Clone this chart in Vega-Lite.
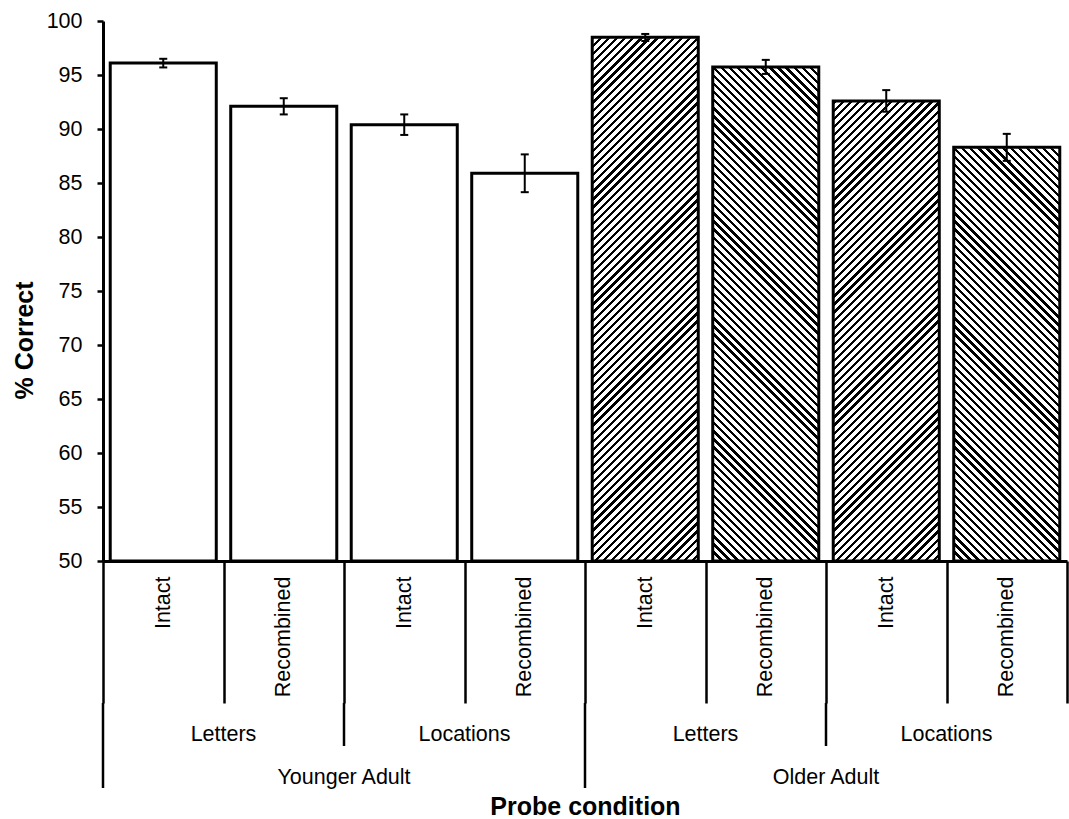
{
"$schema":"https://vega.github.io/schema/vega-lite/v6.json",
"background":"white",
"padding":{"left":12,"top":10,"right":0,"bottom":0},
"config":{"view":{"stroke":null},"font":"Liberation Sans","axis":{"grid":false,"labelColor":"black","titleColor":"black","domainColor":"black","tickColor":"black","labelFont":"Liberation Sans","titleFont":"Liberation Sans","labelFontSize":21.5}},
"datasets":{
"bars":[
{"age":"Younger Adult","material":"Letters","cond":"Intact","cell":"Younger Adult|Letters|Intact","mean":96.1,"lo":95.7,"hi":96.5},
{"age":"Younger Adult","material":"Letters","cond":"Recombined","cell":"Younger Adult|Letters|Recombined","mean":92.1,"lo":91.35,"hi":92.85},
{"age":"Younger Adult","material":"Locations","cond":"Intact","cell":"Younger Adult|Locations|Intact","mean":90.4,"lo":89.45,"hi":91.35},
{"age":"Younger Adult","material":"Locations","cond":"Recombined","cell":"Younger Adult|Locations|Recombined","mean":85.9,"lo":84.15,"hi":87.65},
{"age":"Older Adult","material":"Letters","cond":"Intact","cell":"Older Adult|Letters|Intact","mean":98.5,"lo":98.15,"hi":98.8},
{"age":"Older Adult","material":"Letters","cond":"Recombined","cell":"Older Adult|Letters|Recombined","mean":95.75,"lo":95.1,"hi":96.4},
{"age":"Older Adult","material":"Locations","cond":"Intact","cell":"Older Adult|Locations|Intact","mean":92.6,"lo":91.6,"hi":93.6},
{"age":"Older Adult","material":"Locations","cond":"Recombined","cell":"Older Adult|Locations|Recombined","mean":88.3,"lo":87.05,"hi":89.55}
],
"materials":[
{"group":"Younger Adult|Letters","material":"Letters"},
{"group":"Younger Adult|Locations","material":"Locations"},
{"group":"Older Adult|Letters","material":"Letters"},
{"group":"Older Adult|Locations","material":"Locations"}
],
"ages":[{"age":"Younger Adult"},{"age":"Older Adult"}]
},
"bounds":"flush",
"spacing":142,
"vconcat":[
{
"width":964,"height":540,
"data":{"name":"bars"},
"encoding":{"x":{"field":"cell","type":"nominal","scale":{"domain":["Younger Adult|Letters|Intact","Younger Adult|Letters|Recombined","Younger Adult|Locations|Intact","Younger Adult|Locations|Recombined","Older Adult|Letters|Intact","Older Adult|Letters|Recombined","Older Adult|Locations|Intact","Older Adult|Locations|Recombined"],"paddingInner":0,"paddingOuter":0},
"axis":{"title":null,"tickBand":"extent","tickSize":142,"tickWidth":2.5,"domainWidth":3,"labelAngle":270,"labelAlign":"right","labelBaseline":"middle","labelPadding":-127,"labelOverlap":false,"labelExpr":"split(datum.label, '|')[2]"}}},
"layer":[
{"transform":[{"filter":"datum.age === 'Older Adult' && datum.cond === 'Intact'"}],
"mark":{"type":"bar","width":{"band":0.88},"strokeWidth":0,"fill":{"gradient":"linear","x1":0,"y1":0,"x2":0.2262,"y2":1.1519,"stops":[
{"offset":0,"color":"#000"},{"offset":0.005,"color":"#000"},{"offset":0.005,"color":"#fff"},{"offset":0.0125,"color":"#fff"},{"offset":0.0125,"color":"#000"},{"offset":0.0175,"color":"#000"},{"offset":0.0175,"color":"#fff"},{"offset":0.025,"color":"#fff"},{"offset":0.025,"color":"#000"},{"offset":0.03,"color":"#000"},{"offset":0.03,"color":"#fff"},{"offset":0.0375,"color":"#fff"},{"offset":0.0375,"color":"#000"},{"offset":0.0425,"color":"#000"},{"offset":0.0425,"color":"#fff"},{"offset":0.05,"color":"#fff"},{"offset":0.05,"color":"#000"},{"offset":0.055,"color":"#000"},{"offset":0.055,"color":"#fff"},{"offset":0.0625,"color":"#fff"},{"offset":0.0625,"color":"#000"},{"offset":0.0675,"color":"#000"},{"offset":0.0675,"color":"#fff"},{"offset":0.075,"color":"#fff"},{"offset":0.075,"color":"#000"},{"offset":0.08,"color":"#000"},{"offset":0.08,"color":"#fff"},{"offset":0.0875,"color":"#fff"},{"offset":0.0875,"color":"#000"},{"offset":0.0925,"color":"#000"},{"offset":0.0925,"color":"#fff"},{"offset":0.1,"color":"#fff"},
{"offset":0.1,"color":"#000"},{"offset":0.105,"color":"#000"},{"offset":0.105,"color":"#fff"},{"offset":0.1125,"color":"#fff"},{"offset":0.1125,"color":"#000"},{"offset":0.1175,"color":"#000"},{"offset":0.1175,"color":"#fff"},{"offset":0.125,"color":"#fff"},{"offset":0.125,"color":"#000"},{"offset":0.13,"color":"#000"},{"offset":0.13,"color":"#fff"},{"offset":0.1375,"color":"#fff"},{"offset":0.1375,"color":"#000"},{"offset":0.1425,"color":"#000"},{"offset":0.1425,"color":"#fff"},{"offset":0.15,"color":"#fff"},{"offset":0.15,"color":"#000"},{"offset":0.155,"color":"#000"},{"offset":0.155,"color":"#fff"},{"offset":0.1625,"color":"#fff"},{"offset":0.1625,"color":"#000"},{"offset":0.1675,"color":"#000"},{"offset":0.1675,"color":"#fff"},{"offset":0.175,"color":"#fff"},{"offset":0.175,"color":"#000"},{"offset":0.18,"color":"#000"},{"offset":0.18,"color":"#fff"},{"offset":0.1875,"color":"#fff"},{"offset":0.1875,"color":"#000"},{"offset":0.1925,"color":"#000"},{"offset":0.1925,"color":"#fff"},{"offset":0.2,"color":"#fff"},
{"offset":0.2,"color":"#000"},{"offset":0.205,"color":"#000"},{"offset":0.205,"color":"#fff"},{"offset":0.2125,"color":"#fff"},{"offset":0.2125,"color":"#000"},{"offset":0.2175,"color":"#000"},{"offset":0.2175,"color":"#fff"},{"offset":0.225,"color":"#fff"},{"offset":0.225,"color":"#000"},{"offset":0.23,"color":"#000"},{"offset":0.23,"color":"#fff"},{"offset":0.2375,"color":"#fff"},{"offset":0.2375,"color":"#000"},{"offset":0.2425,"color":"#000"},{"offset":0.2425,"color":"#fff"},{"offset":0.25,"color":"#fff"},{"offset":0.25,"color":"#000"},{"offset":0.255,"color":"#000"},{"offset":0.255,"color":"#fff"},{"offset":0.2625,"color":"#fff"},{"offset":0.2625,"color":"#000"},{"offset":0.2675,"color":"#000"},{"offset":0.2675,"color":"#fff"},{"offset":0.275,"color":"#fff"},{"offset":0.275,"color":"#000"},{"offset":0.28,"color":"#000"},{"offset":0.28,"color":"#fff"},{"offset":0.2875,"color":"#fff"},{"offset":0.2875,"color":"#000"},{"offset":0.2925,"color":"#000"},{"offset":0.2925,"color":"#fff"},{"offset":0.3,"color":"#fff"},
{"offset":0.3,"color":"#000"},{"offset":0.305,"color":"#000"},{"offset":0.305,"color":"#fff"},{"offset":0.3125,"color":"#fff"},{"offset":0.3125,"color":"#000"},{"offset":0.3175,"color":"#000"},{"offset":0.3175,"color":"#fff"},{"offset":0.325,"color":"#fff"},{"offset":0.325,"color":"#000"},{"offset":0.33,"color":"#000"},{"offset":0.33,"color":"#fff"},{"offset":0.3375,"color":"#fff"},{"offset":0.3375,"color":"#000"},{"offset":0.3425,"color":"#000"},{"offset":0.3425,"color":"#fff"},{"offset":0.35,"color":"#fff"},{"offset":0.35,"color":"#000"},{"offset":0.355,"color":"#000"},{"offset":0.355,"color":"#fff"},{"offset":0.3625,"color":"#fff"},{"offset":0.3625,"color":"#000"},{"offset":0.3675,"color":"#000"},{"offset":0.3675,"color":"#fff"},{"offset":0.375,"color":"#fff"},{"offset":0.375,"color":"#000"},{"offset":0.38,"color":"#000"},{"offset":0.38,"color":"#fff"},{"offset":0.3875,"color":"#fff"},{"offset":0.3875,"color":"#000"},{"offset":0.3925,"color":"#000"},{"offset":0.3925,"color":"#fff"},{"offset":0.4,"color":"#fff"},
{"offset":0.4,"color":"#000"},{"offset":0.405,"color":"#000"},{"offset":0.405,"color":"#fff"},{"offset":0.4125,"color":"#fff"},{"offset":0.4125,"color":"#000"},{"offset":0.4175,"color":"#000"},{"offset":0.4175,"color":"#fff"},{"offset":0.425,"color":"#fff"},{"offset":0.425,"color":"#000"},{"offset":0.43,"color":"#000"},{"offset":0.43,"color":"#fff"},{"offset":0.4375,"color":"#fff"},{"offset":0.4375,"color":"#000"},{"offset":0.4425,"color":"#000"},{"offset":0.4425,"color":"#fff"},{"offset":0.45,"color":"#fff"},{"offset":0.45,"color":"#000"},{"offset":0.455,"color":"#000"},{"offset":0.455,"color":"#fff"},{"offset":0.4625,"color":"#fff"},{"offset":0.4625,"color":"#000"},{"offset":0.4675,"color":"#000"},{"offset":0.4675,"color":"#fff"},{"offset":0.475,"color":"#fff"},{"offset":0.475,"color":"#000"},{"offset":0.48,"color":"#000"},{"offset":0.48,"color":"#fff"},{"offset":0.4875,"color":"#fff"},{"offset":0.4875,"color":"#000"},{"offset":0.4925,"color":"#000"},{"offset":0.4925,"color":"#fff"},{"offset":0.5,"color":"#fff"},
{"offset":0.5,"color":"#000"},{"offset":0.505,"color":"#000"},{"offset":0.505,"color":"#fff"},{"offset":0.5125,"color":"#fff"},{"offset":0.5125,"color":"#000"},{"offset":0.5175,"color":"#000"},{"offset":0.5175,"color":"#fff"},{"offset":0.525,"color":"#fff"},{"offset":0.525,"color":"#000"},{"offset":0.53,"color":"#000"},{"offset":0.53,"color":"#fff"},{"offset":0.5375,"color":"#fff"},{"offset":0.5375,"color":"#000"},{"offset":0.5425,"color":"#000"},{"offset":0.5425,"color":"#fff"},{"offset":0.55,"color":"#fff"},{"offset":0.55,"color":"#000"},{"offset":0.555,"color":"#000"},{"offset":0.555,"color":"#fff"},{"offset":0.5625,"color":"#fff"},{"offset":0.5625,"color":"#000"},{"offset":0.5675,"color":"#000"},{"offset":0.5675,"color":"#fff"},{"offset":0.575,"color":"#fff"},{"offset":0.575,"color":"#000"},{"offset":0.58,"color":"#000"},{"offset":0.58,"color":"#fff"},{"offset":0.5875,"color":"#fff"},{"offset":0.5875,"color":"#000"},{"offset":0.5925,"color":"#000"},{"offset":0.5925,"color":"#fff"},{"offset":0.6,"color":"#fff"},
{"offset":0.6,"color":"#000"},{"offset":0.605,"color":"#000"},{"offset":0.605,"color":"#fff"},{"offset":0.6125,"color":"#fff"},{"offset":0.6125,"color":"#000"},{"offset":0.6175,"color":"#000"},{"offset":0.6175,"color":"#fff"},{"offset":0.625,"color":"#fff"},{"offset":0.625,"color":"#000"},{"offset":0.63,"color":"#000"},{"offset":0.63,"color":"#fff"},{"offset":0.6375,"color":"#fff"},{"offset":0.6375,"color":"#000"},{"offset":0.6425,"color":"#000"},{"offset":0.6425,"color":"#fff"},{"offset":0.65,"color":"#fff"},{"offset":0.65,"color":"#000"},{"offset":0.655,"color":"#000"},{"offset":0.655,"color":"#fff"},{"offset":0.6625,"color":"#fff"},{"offset":0.6625,"color":"#000"},{"offset":0.6675,"color":"#000"},{"offset":0.6675,"color":"#fff"},{"offset":0.675,"color":"#fff"},{"offset":0.675,"color":"#000"},{"offset":0.68,"color":"#000"},{"offset":0.68,"color":"#fff"},{"offset":0.6875,"color":"#fff"},{"offset":0.6875,"color":"#000"},{"offset":0.6925,"color":"#000"},{"offset":0.6925,"color":"#fff"},{"offset":0.7,"color":"#fff"},
{"offset":0.7,"color":"#000"},{"offset":0.705,"color":"#000"},{"offset":0.705,"color":"#fff"},{"offset":0.7125,"color":"#fff"},{"offset":0.7125,"color":"#000"},{"offset":0.7175,"color":"#000"},{"offset":0.7175,"color":"#fff"},{"offset":0.725,"color":"#fff"},{"offset":0.725,"color":"#000"},{"offset":0.73,"color":"#000"},{"offset":0.73,"color":"#fff"},{"offset":0.7375,"color":"#fff"},{"offset":0.7375,"color":"#000"},{"offset":0.7425,"color":"#000"},{"offset":0.7425,"color":"#fff"},{"offset":0.75,"color":"#fff"},{"offset":0.75,"color":"#000"},{"offset":0.755,"color":"#000"},{"offset":0.755,"color":"#fff"},{"offset":0.7625,"color":"#fff"},{"offset":0.7625,"color":"#000"},{"offset":0.7675,"color":"#000"},{"offset":0.7675,"color":"#fff"},{"offset":0.775,"color":"#fff"},{"offset":0.775,"color":"#000"},{"offset":0.78,"color":"#000"},{"offset":0.78,"color":"#fff"},{"offset":0.7875,"color":"#fff"},{"offset":0.7875,"color":"#000"},{"offset":0.7925,"color":"#000"},{"offset":0.7925,"color":"#fff"},{"offset":0.8,"color":"#fff"},
{"offset":0.8,"color":"#000"},{"offset":0.805,"color":"#000"},{"offset":0.805,"color":"#fff"},{"offset":0.8125,"color":"#fff"},{"offset":0.8125,"color":"#000"},{"offset":0.8175,"color":"#000"},{"offset":0.8175,"color":"#fff"},{"offset":0.825,"color":"#fff"},{"offset":0.825,"color":"#000"},{"offset":0.83,"color":"#000"},{"offset":0.83,"color":"#fff"},{"offset":0.8375,"color":"#fff"},{"offset":0.8375,"color":"#000"},{"offset":0.8425,"color":"#000"},{"offset":0.8425,"color":"#fff"},{"offset":0.85,"color":"#fff"},{"offset":0.85,"color":"#000"},{"offset":0.855,"color":"#000"},{"offset":0.855,"color":"#fff"},{"offset":0.8625,"color":"#fff"},{"offset":0.8625,"color":"#000"},{"offset":0.8675,"color":"#000"},{"offset":0.8675,"color":"#fff"},{"offset":0.875,"color":"#fff"},{"offset":0.875,"color":"#000"},{"offset":0.88,"color":"#000"},{"offset":0.88,"color":"#fff"},{"offset":0.8875,"color":"#fff"},{"offset":0.8875,"color":"#000"},{"offset":0.8925,"color":"#000"},{"offset":0.8925,"color":"#fff"},{"offset":0.9,"color":"#fff"},
{"offset":0.9,"color":"#000"},{"offset":0.905,"color":"#000"},{"offset":0.905,"color":"#fff"},{"offset":0.9125,"color":"#fff"},{"offset":0.9125,"color":"#000"},{"offset":0.9175,"color":"#000"},{"offset":0.9175,"color":"#fff"},{"offset":0.925,"color":"#fff"},{"offset":0.925,"color":"#000"},{"offset":0.93,"color":"#000"},{"offset":0.93,"color":"#fff"},{"offset":0.9375,"color":"#fff"},{"offset":0.9375,"color":"#000"},{"offset":0.9425,"color":"#000"},{"offset":0.9425,"color":"#fff"},{"offset":0.95,"color":"#fff"},{"offset":0.95,"color":"#000"},{"offset":0.955,"color":"#000"},{"offset":0.955,"color":"#fff"},{"offset":0.9625,"color":"#fff"},{"offset":0.9625,"color":"#000"},{"offset":0.9675,"color":"#000"},{"offset":0.9675,"color":"#fff"},{"offset":0.975,"color":"#fff"},{"offset":0.975,"color":"#000"},{"offset":0.98,"color":"#000"},{"offset":0.98,"color":"#fff"},{"offset":0.9875,"color":"#fff"},{"offset":0.9875,"color":"#000"},{"offset":0.9925,"color":"#000"},{"offset":0.9925,"color":"#fff"},{"offset":1,"color":"#fff"}
]}},
"encoding":{"y":{"datum":100,"type":"quantitative","scale":{"domain":[50,100],"nice":false,"zero":false},"axis":{"title":"% Correct","values":[50,55,60,65,70,75,80,85,90,95,100],"tickSize":6,"tickWidth":2.5,"domainWidth":3,"labelPadding":15,"labelAlign":"right","labelBaseline":"middle","titleFontSize":25,"titleFontWeight":"bold","titleAngle":270,"titleAlign":"center","titleBaseline":"alphabetic","titleX":-71,"titleY":319}},"y2":{"datum":50}}},
{"transform":[{"filter":"datum.age === 'Older Adult' && datum.cond === 'Recombined'"}],
"mark":{"type":"bar","width":{"band":0.88},"strokeWidth":0,"fill":{"gradient":"linear","x1":0,"y1":1,"x2":0.2262,"y2":-0.1519,"stops":[
{"offset":0,"color":"#000"},{"offset":0.005,"color":"#000"},{"offset":0.005,"color":"#fff"},{"offset":0.0125,"color":"#fff"},{"offset":0.0125,"color":"#000"},{"offset":0.0175,"color":"#000"},{"offset":0.0175,"color":"#fff"},{"offset":0.025,"color":"#fff"},{"offset":0.025,"color":"#000"},{"offset":0.03,"color":"#000"},{"offset":0.03,"color":"#fff"},{"offset":0.0375,"color":"#fff"},{"offset":0.0375,"color":"#000"},{"offset":0.0425,"color":"#000"},{"offset":0.0425,"color":"#fff"},{"offset":0.05,"color":"#fff"},{"offset":0.05,"color":"#000"},{"offset":0.055,"color":"#000"},{"offset":0.055,"color":"#fff"},{"offset":0.0625,"color":"#fff"},{"offset":0.0625,"color":"#000"},{"offset":0.0675,"color":"#000"},{"offset":0.0675,"color":"#fff"},{"offset":0.075,"color":"#fff"},{"offset":0.075,"color":"#000"},{"offset":0.08,"color":"#000"},{"offset":0.08,"color":"#fff"},{"offset":0.0875,"color":"#fff"},{"offset":0.0875,"color":"#000"},{"offset":0.0925,"color":"#000"},{"offset":0.0925,"color":"#fff"},{"offset":0.1,"color":"#fff"},
{"offset":0.1,"color":"#000"},{"offset":0.105,"color":"#000"},{"offset":0.105,"color":"#fff"},{"offset":0.1125,"color":"#fff"},{"offset":0.1125,"color":"#000"},{"offset":0.1175,"color":"#000"},{"offset":0.1175,"color":"#fff"},{"offset":0.125,"color":"#fff"},{"offset":0.125,"color":"#000"},{"offset":0.13,"color":"#000"},{"offset":0.13,"color":"#fff"},{"offset":0.1375,"color":"#fff"},{"offset":0.1375,"color":"#000"},{"offset":0.1425,"color":"#000"},{"offset":0.1425,"color":"#fff"},{"offset":0.15,"color":"#fff"},{"offset":0.15,"color":"#000"},{"offset":0.155,"color":"#000"},{"offset":0.155,"color":"#fff"},{"offset":0.1625,"color":"#fff"},{"offset":0.1625,"color":"#000"},{"offset":0.1675,"color":"#000"},{"offset":0.1675,"color":"#fff"},{"offset":0.175,"color":"#fff"},{"offset":0.175,"color":"#000"},{"offset":0.18,"color":"#000"},{"offset":0.18,"color":"#fff"},{"offset":0.1875,"color":"#fff"},{"offset":0.1875,"color":"#000"},{"offset":0.1925,"color":"#000"},{"offset":0.1925,"color":"#fff"},{"offset":0.2,"color":"#fff"},
{"offset":0.2,"color":"#000"},{"offset":0.205,"color":"#000"},{"offset":0.205,"color":"#fff"},{"offset":0.2125,"color":"#fff"},{"offset":0.2125,"color":"#000"},{"offset":0.2175,"color":"#000"},{"offset":0.2175,"color":"#fff"},{"offset":0.225,"color":"#fff"},{"offset":0.225,"color":"#000"},{"offset":0.23,"color":"#000"},{"offset":0.23,"color":"#fff"},{"offset":0.2375,"color":"#fff"},{"offset":0.2375,"color":"#000"},{"offset":0.2425,"color":"#000"},{"offset":0.2425,"color":"#fff"},{"offset":0.25,"color":"#fff"},{"offset":0.25,"color":"#000"},{"offset":0.255,"color":"#000"},{"offset":0.255,"color":"#fff"},{"offset":0.2625,"color":"#fff"},{"offset":0.2625,"color":"#000"},{"offset":0.2675,"color":"#000"},{"offset":0.2675,"color":"#fff"},{"offset":0.275,"color":"#fff"},{"offset":0.275,"color":"#000"},{"offset":0.28,"color":"#000"},{"offset":0.28,"color":"#fff"},{"offset":0.2875,"color":"#fff"},{"offset":0.2875,"color":"#000"},{"offset":0.2925,"color":"#000"},{"offset":0.2925,"color":"#fff"},{"offset":0.3,"color":"#fff"},
{"offset":0.3,"color":"#000"},{"offset":0.305,"color":"#000"},{"offset":0.305,"color":"#fff"},{"offset":0.3125,"color":"#fff"},{"offset":0.3125,"color":"#000"},{"offset":0.3175,"color":"#000"},{"offset":0.3175,"color":"#fff"},{"offset":0.325,"color":"#fff"},{"offset":0.325,"color":"#000"},{"offset":0.33,"color":"#000"},{"offset":0.33,"color":"#fff"},{"offset":0.3375,"color":"#fff"},{"offset":0.3375,"color":"#000"},{"offset":0.3425,"color":"#000"},{"offset":0.3425,"color":"#fff"},{"offset":0.35,"color":"#fff"},{"offset":0.35,"color":"#000"},{"offset":0.355,"color":"#000"},{"offset":0.355,"color":"#fff"},{"offset":0.3625,"color":"#fff"},{"offset":0.3625,"color":"#000"},{"offset":0.3675,"color":"#000"},{"offset":0.3675,"color":"#fff"},{"offset":0.375,"color":"#fff"},{"offset":0.375,"color":"#000"},{"offset":0.38,"color":"#000"},{"offset":0.38,"color":"#fff"},{"offset":0.3875,"color":"#fff"},{"offset":0.3875,"color":"#000"},{"offset":0.3925,"color":"#000"},{"offset":0.3925,"color":"#fff"},{"offset":0.4,"color":"#fff"},
{"offset":0.4,"color":"#000"},{"offset":0.405,"color":"#000"},{"offset":0.405,"color":"#fff"},{"offset":0.4125,"color":"#fff"},{"offset":0.4125,"color":"#000"},{"offset":0.4175,"color":"#000"},{"offset":0.4175,"color":"#fff"},{"offset":0.425,"color":"#fff"},{"offset":0.425,"color":"#000"},{"offset":0.43,"color":"#000"},{"offset":0.43,"color":"#fff"},{"offset":0.4375,"color":"#fff"},{"offset":0.4375,"color":"#000"},{"offset":0.4425,"color":"#000"},{"offset":0.4425,"color":"#fff"},{"offset":0.45,"color":"#fff"},{"offset":0.45,"color":"#000"},{"offset":0.455,"color":"#000"},{"offset":0.455,"color":"#fff"},{"offset":0.4625,"color":"#fff"},{"offset":0.4625,"color":"#000"},{"offset":0.4675,"color":"#000"},{"offset":0.4675,"color":"#fff"},{"offset":0.475,"color":"#fff"},{"offset":0.475,"color":"#000"},{"offset":0.48,"color":"#000"},{"offset":0.48,"color":"#fff"},{"offset":0.4875,"color":"#fff"},{"offset":0.4875,"color":"#000"},{"offset":0.4925,"color":"#000"},{"offset":0.4925,"color":"#fff"},{"offset":0.5,"color":"#fff"},
{"offset":0.5,"color":"#000"},{"offset":0.505,"color":"#000"},{"offset":0.505,"color":"#fff"},{"offset":0.5125,"color":"#fff"},{"offset":0.5125,"color":"#000"},{"offset":0.5175,"color":"#000"},{"offset":0.5175,"color":"#fff"},{"offset":0.525,"color":"#fff"},{"offset":0.525,"color":"#000"},{"offset":0.53,"color":"#000"},{"offset":0.53,"color":"#fff"},{"offset":0.5375,"color":"#fff"},{"offset":0.5375,"color":"#000"},{"offset":0.5425,"color":"#000"},{"offset":0.5425,"color":"#fff"},{"offset":0.55,"color":"#fff"},{"offset":0.55,"color":"#000"},{"offset":0.555,"color":"#000"},{"offset":0.555,"color":"#fff"},{"offset":0.5625,"color":"#fff"},{"offset":0.5625,"color":"#000"},{"offset":0.5675,"color":"#000"},{"offset":0.5675,"color":"#fff"},{"offset":0.575,"color":"#fff"},{"offset":0.575,"color":"#000"},{"offset":0.58,"color":"#000"},{"offset":0.58,"color":"#fff"},{"offset":0.5875,"color":"#fff"},{"offset":0.5875,"color":"#000"},{"offset":0.5925,"color":"#000"},{"offset":0.5925,"color":"#fff"},{"offset":0.6,"color":"#fff"},
{"offset":0.6,"color":"#000"},{"offset":0.605,"color":"#000"},{"offset":0.605,"color":"#fff"},{"offset":0.6125,"color":"#fff"},{"offset":0.6125,"color":"#000"},{"offset":0.6175,"color":"#000"},{"offset":0.6175,"color":"#fff"},{"offset":0.625,"color":"#fff"},{"offset":0.625,"color":"#000"},{"offset":0.63,"color":"#000"},{"offset":0.63,"color":"#fff"},{"offset":0.6375,"color":"#fff"},{"offset":0.6375,"color":"#000"},{"offset":0.6425,"color":"#000"},{"offset":0.6425,"color":"#fff"},{"offset":0.65,"color":"#fff"},{"offset":0.65,"color":"#000"},{"offset":0.655,"color":"#000"},{"offset":0.655,"color":"#fff"},{"offset":0.6625,"color":"#fff"},{"offset":0.6625,"color":"#000"},{"offset":0.6675,"color":"#000"},{"offset":0.6675,"color":"#fff"},{"offset":0.675,"color":"#fff"},{"offset":0.675,"color":"#000"},{"offset":0.68,"color":"#000"},{"offset":0.68,"color":"#fff"},{"offset":0.6875,"color":"#fff"},{"offset":0.6875,"color":"#000"},{"offset":0.6925,"color":"#000"},{"offset":0.6925,"color":"#fff"},{"offset":0.7,"color":"#fff"},
{"offset":0.7,"color":"#000"},{"offset":0.705,"color":"#000"},{"offset":0.705,"color":"#fff"},{"offset":0.7125,"color":"#fff"},{"offset":0.7125,"color":"#000"},{"offset":0.7175,"color":"#000"},{"offset":0.7175,"color":"#fff"},{"offset":0.725,"color":"#fff"},{"offset":0.725,"color":"#000"},{"offset":0.73,"color":"#000"},{"offset":0.73,"color":"#fff"},{"offset":0.7375,"color":"#fff"},{"offset":0.7375,"color":"#000"},{"offset":0.7425,"color":"#000"},{"offset":0.7425,"color":"#fff"},{"offset":0.75,"color":"#fff"},{"offset":0.75,"color":"#000"},{"offset":0.755,"color":"#000"},{"offset":0.755,"color":"#fff"},{"offset":0.7625,"color":"#fff"},{"offset":0.7625,"color":"#000"},{"offset":0.7675,"color":"#000"},{"offset":0.7675,"color":"#fff"},{"offset":0.775,"color":"#fff"},{"offset":0.775,"color":"#000"},{"offset":0.78,"color":"#000"},{"offset":0.78,"color":"#fff"},{"offset":0.7875,"color":"#fff"},{"offset":0.7875,"color":"#000"},{"offset":0.7925,"color":"#000"},{"offset":0.7925,"color":"#fff"},{"offset":0.8,"color":"#fff"},
{"offset":0.8,"color":"#000"},{"offset":0.805,"color":"#000"},{"offset":0.805,"color":"#fff"},{"offset":0.8125,"color":"#fff"},{"offset":0.8125,"color":"#000"},{"offset":0.8175,"color":"#000"},{"offset":0.8175,"color":"#fff"},{"offset":0.825,"color":"#fff"},{"offset":0.825,"color":"#000"},{"offset":0.83,"color":"#000"},{"offset":0.83,"color":"#fff"},{"offset":0.8375,"color":"#fff"},{"offset":0.8375,"color":"#000"},{"offset":0.8425,"color":"#000"},{"offset":0.8425,"color":"#fff"},{"offset":0.85,"color":"#fff"},{"offset":0.85,"color":"#000"},{"offset":0.855,"color":"#000"},{"offset":0.855,"color":"#fff"},{"offset":0.8625,"color":"#fff"},{"offset":0.8625,"color":"#000"},{"offset":0.8675,"color":"#000"},{"offset":0.8675,"color":"#fff"},{"offset":0.875,"color":"#fff"},{"offset":0.875,"color":"#000"},{"offset":0.88,"color":"#000"},{"offset":0.88,"color":"#fff"},{"offset":0.8875,"color":"#fff"},{"offset":0.8875,"color":"#000"},{"offset":0.8925,"color":"#000"},{"offset":0.8925,"color":"#fff"},{"offset":0.9,"color":"#fff"},
{"offset":0.9,"color":"#000"},{"offset":0.905,"color":"#000"},{"offset":0.905,"color":"#fff"},{"offset":0.9125,"color":"#fff"},{"offset":0.9125,"color":"#000"},{"offset":0.9175,"color":"#000"},{"offset":0.9175,"color":"#fff"},{"offset":0.925,"color":"#fff"},{"offset":0.925,"color":"#000"},{"offset":0.93,"color":"#000"},{"offset":0.93,"color":"#fff"},{"offset":0.9375,"color":"#fff"},{"offset":0.9375,"color":"#000"},{"offset":0.9425,"color":"#000"},{"offset":0.9425,"color":"#fff"},{"offset":0.95,"color":"#fff"},{"offset":0.95,"color":"#000"},{"offset":0.955,"color":"#000"},{"offset":0.955,"color":"#fff"},{"offset":0.9625,"color":"#fff"},{"offset":0.9625,"color":"#000"},{"offset":0.9675,"color":"#000"},{"offset":0.9675,"color":"#fff"},{"offset":0.975,"color":"#fff"},{"offset":0.975,"color":"#000"},{"offset":0.98,"color":"#000"},{"offset":0.98,"color":"#fff"},{"offset":0.9875,"color":"#fff"},{"offset":0.9875,"color":"#000"},{"offset":0.9925,"color":"#000"},{"offset":0.9925,"color":"#fff"},{"offset":1,"color":"#fff"}
]}},
"encoding":{"y":{"datum":100,"type":"quantitative"},"y2":{"datum":50}}},
{"transform":[{"filter":"datum.age === 'Older Adult'"}],
"mark":{"type":"bar","width":{"band":0.88},"fill":"white","stroke":"white","strokeWidth":2},
"encoding":{"y":{"field":"mean","type":"quantitative"},"y2":{"datum":100}}},
{"mark":{"type":"bar","width":{"band":0.88},"fill":"transparent","stroke":"black","strokeWidth":3},
"encoding":{"y":{"field":"mean","type":"quantitative"},"y2":{"datum":50}}},
{"mark":{"type":"rule","strokeWidth":2,"color":"black"},
"encoding":{"y":{"field":"lo","type":"quantitative"},"y2":{"field":"hi"}}},
{"mark":{"type":"tick","size":8,"thickness":2,"color":"black","opacity":1,"orient":"horizontal"},
"encoding":{"y":{"field":"lo","type":"quantitative"}}},
{"mark":{"type":"tick","size":8,"thickness":2,"color":"black","opacity":1,"orient":"horizontal"},
"encoding":{"y":{"field":"hi","type":"quantitative"}}}
]
},
{
"bounds":"flush",
"spacing":0,
"vconcat":[
{
"width":964,"height":43,
"data":{"name":"materials"},
"layer":[
{"mark":{"type":"rule","strokeWidth":2.5,"color":"black"},
"encoding":{"x":{"field":"group","type":"nominal","bandPosition":0,"scale":{"domain":["Younger Adult|Letters","Younger Adult|Locations","Older Adult|Letters","Older Adult|Locations"],"paddingInner":0,"paddingOuter":0},"axis":null}}},
{"mark":{"type":"text","fontSize":21.5,"font":"Liberation Sans","baseline":"alphabetic","dy":16.5,"color":"black"},
"encoding":{"x":{"field":"group","type":"nominal","axis":null},"text":{"field":"material"}}}
]
},
{
"width":964,"height":42,
"data":{"name":"ages"},
"layer":[
{"mark":{"type":"rule","strokeWidth":2.5,"color":"black"},
"encoding":{"x":{"field":"age","type":"nominal","bandPosition":0,"scale":{"domain":["Younger Adult","Older Adult"],"paddingInner":0,"paddingOuter":0},"axis":{"title":"Probe condition","labels":false,"ticks":false,"domain":false,"titleFontSize":25,"titleFontWeight":"bold","titlePadding":6}}}},
{"mark":{"type":"text","fontSize":21.5,"font":"Liberation Sans","baseline":"alphabetic","dy":17,"color":"black"},
"encoding":{"x":{"field":"age","type":"nominal"},"text":{"field":"age"}}}
]
}
]
}
]
}
